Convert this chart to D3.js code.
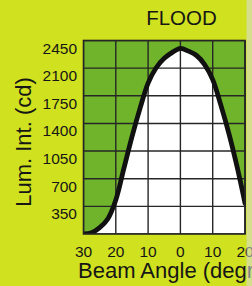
<!DOCTYPE html>
<html>
<head>
<meta charset="utf-8">
<script src="https://cdn.jsdelivr.net/npm/d3@7"></script>
<style>
  body { margin: 0; background: #cfe01e; }
  svg { display: block; }
</style>
</head>
<body>
<div id="chart"></div>
<script>
//data
var angles = [-30, -27.5, -25, -22.5, -20, -17.5, -15, -12.5, -10, -7.5, -5, -2.5, 0, 2.5, 5, 7.5, 10, 12.5, 15, 17.5, 20];
var intensity = [0, 15, 80, 190, 430, 830, 1230, 1590, 1910, 2105, 2225, 2300, 2350, 2315, 2260, 2145, 1955, 1635, 1275, 860, 390];
var xTicks = [-30, -20, -10, 0, 10, 20];
var yTicks = [350, 700, 1050, 1400, 1750, 2100, 2450];
var title = "FLOOD";
var xTitle = "Beam Angle (degrees)";
var yTitle = "Lum. Int. (cd)";

var width = 252;
var height = 286;
//plot box (note: "top" is taken by window.top, so use other names)
var plotLeft = 83.5, plotRight = 245, plotTop = 40.5, plotBottom = 234;

var svg = d3.select("#chart")
  .append("svg")
  .attr("width", width)
  .attr("height", height);

//background
svg.append("rect")
  .attr("width", width)
  .attr("height", height)
  .attr("fill", "#d0e11f");

var x = d3.scaleLinear().domain([-30, 20]).range([plotLeft, plotRight]);
var y = d3.scaleLinear().domain([0, 2450]).range([plotBottom, plotTop]);

var points = angles.map(function (a, i) { return [a, intensity[i]]; });

svg.append("clipPath").attr("id", "plotClip")
  .append("rect")
  .attr("x", plotLeft).attr("y", plotTop)
  .attr("width", plotRight - plotLeft + 1).attr("height", plotBottom - plotTop);

var plot = svg.append("g").attr("clip-path", "url(#plotClip)");

//green plot area
plot.append("rect")
  .attr("x", plotLeft).attr("y", plotTop)
  .attr("width", plotRight - plotLeft + 1).attr("height", plotBottom - plotTop)
  .attr("fill", "#6fb42a");

//white under the curve
var area = d3.area()
  .x(function (d) { return x(d[0]); })
  .y0(y(0))
  .y1(function (d) { return y(d[1]); })
  .curve(d3.curveCatmullRom.alpha(0.5));

plot.append("path")
  .datum(points)
  .attr("d", area)
  .attr("fill", "#ffffff");

//grid lines
plot.selectAll("line.v")
  .data(xTicks)
  .enter().append("line")
  .attr("x1", function (d) { return x(d); })
  .attr("x2", function (d) { return x(d); })
  .attr("y1", plotTop).attr("y2", plotBottom)
  .attr("stroke", "#262626")
  .attr("stroke-width", 1.4);

plot.selectAll("line.h")
  .data([0].concat(yTicks))
  .enter().append("line")
  .attr("x1", plotLeft).attr("x2", plotRight + 1)
  .attr("y1", function (d) { return y(d); })
  .attr("y2", function (d) { return y(d); })
  .attr("stroke", "#262626")
  .attr("stroke-width", 1.4);

//the curve
var line = d3.line()
  .x(function (d) { return x(d[0]); })
  .y(function (d) { return y(d[1]); })
  .curve(d3.curveCatmullRom.alpha(0.5));

plot.append("path")
  .datum(points)
  .attr("d", line)
  .attr("fill", "none")
  .attr("stroke", "#111")
  .attr("stroke-width", 4.8)
  .attr("stroke-linecap", "round");

//frame
svg.append("rect")
  .attr("x", plotLeft).attr("y", plotTop)
  .attr("width", plotRight - plotLeft).attr("height", plotBottom - plotTop)
  .attr("fill", "none")
  .attr("stroke", "#262626")
  .attr("stroke-width", 1.6);

//axis labels
var font = "Liberation Sans, Arial, sans-serif";

svg.selectAll("text.ytick")
  .data(yTicks)
  .enter().append("text")
  .attr("x", 77)
  .attr("y", function (d) { return y(d) + 13; })
  .attr("text-anchor", "end")
  .attr("font-family", font)
  .attr("font-size", 15.5)
  .attr("fill", "#161616")
  .text(function (d) { return d; });

svg.selectAll("text.xtick")
  .data(xTicks)
  .enter().append("text")
  .attr("x", function (d) { return x(d); })
  .attr("y", 256.5)
  .attr("text-anchor", "middle")
  .attr("font-family", font)
  .attr("font-size", 15.5)
  .attr("fill", "#161616")
  .text(function (d) { return Math.abs(d); });

svg.append("text")
  .attr("x", 181.5).attr("y", 25)
  .attr("text-anchor", "middle")
  .attr("font-family", font)
  .attr("font-size", 20.5)
  .attr("fill", "#161616")
  .text(title);

svg.append("text")
  .attr("x", 78).attr("y", 278)
  .attr("font-family", font)
  .attr("font-size", 22)
  .attr("fill", "#161616")
  .text(xTitle);

svg.append("text")
  .attr("transform", "translate(31,142) rotate(-90)")
  .attr("text-anchor", "middle")
  .attr("font-family", font)
  .attr("font-size", 22)
  .attr("fill", "#161616")
  .text(yTitle);

//scanned page edge on the right
svg.append("rect")
  .attr("x", 246.5).attr("y", 0)
  .attr("width", 6).attr("height", height)
  .attr("fill", "#d9dde3")
  .attr("opacity", 0.55);
</script>
</body>
</html>
